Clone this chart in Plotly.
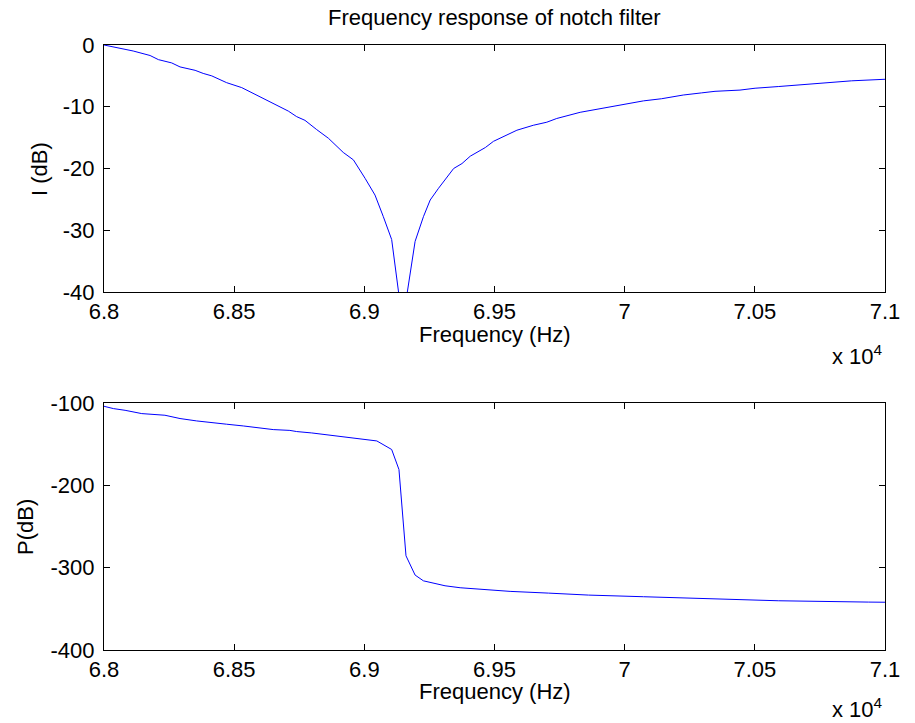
import plotly.graph_objects as go
from plotly.subplots import make_subplots

# ---- data ----
freq_i = [68000, 68112, 68177, 68209, 68260, 68292, 68350, 68381, 68414, 68471, 68529, 68586,
          68644, 68708, 68740, 68772, 68817, 68862, 68919, 68958, 69003, 69041, 69073, 69105,
          69147, 69195, 69227, 69253, 69285, 69343, 69375, 69407, 69465, 69496, 69586, 69649,
          69701, 69739, 69829, 69893, 69951, 70072, 70142, 70225, 70296, 70347, 70443, 70501,
          70590, 70693, 70782, 70872, 71000]
i_db = [0, -0.97, -1.7, -2.37, -2.9, -3.55, -4.1, -4.6, -5.0, -6.1, -6.9, -8.1,
        -9.3, -10.7, -11.6, -12.2, -13.7, -15.1, -17.4, -18.6, -21.6, -24.3, -27.8, -31.5,
        -45.0, -31.8, -27.8, -25.1, -23.2, -20.0, -19.2, -18.0, -16.6, -15.6, -13.8, -13.0,
        -12.5, -11.9, -10.9, -10.4, -9.9, -9.05, -8.7, -8.1, -7.75, -7.5, -7.3, -7.0,
        -6.73, -6.4, -6.1, -5.8, -5.55]

freq_p = [68000, 68036, 68081, 68145, 68234, 68292, 68356, 68407, 68471, 68535, 68593, 68650,
          68714, 68740, 68798, 68862, 68919, 68977, 69015, 69048, 69105, 69133, 69160, 69195,
          69227, 69310, 69368, 69464, 69560, 69707, 69861, 70072, 70315, 70590, 70936, 71000]
p_db = [-104, -106.8, -108.9, -112.9, -114.9, -118.9, -121.8, -123.8, -125.8, -127.9, -130.3, -132.3,
        -133.3, -134.7, -136.4, -138.8, -141.2, -143.2, -144.0, -146.1, -156.5, -180.8, -285.6, -309,
        -316, -322, -324.4, -326.4, -328.8, -330.9, -333.3, -335.3, -337.7, -340.2, -341.8, -342]

x_tickvals = [68000, 68500, 69000, 69500, 70000, 70500, 71000]
x_ticktext = ["6.8", "6.85", "6.9", "6.95", "7", "7.05", "7.1"]
i_tickvals = [0, -10, -20, -30, -40]
i_ticktext = ["0", "-10", "-20", "-30", "-40"]
p_tickvals = [-100, -200, -300, -400]
p_ticktext = ["-100", "-200", "-300", "-400"]

title_text = "Frequency response of notch filter"
x_title = "Frequency (Hz)"
i_title = "I (dB)"
p_title = "P(dB)"
exp_text = "x 10<sup>4</sup>"

FONT = "Liberation Sans, Arial, Helvetica, sans-serif"
FS = 22

fig = make_subplots(rows=2, cols=1)
fig.add_trace(go.Scatter(x=freq_i, y=i_db, mode="lines",
                         line=dict(color="#0000ff", width=1)), row=1, col=1)
fig.add_trace(go.Scatter(x=freq_p, y=p_db, mode="lines",
                         line=dict(color="#0000ff", width=1)), row=2, col=1)

axis_common = dict(showline=True, linecolor="black", linewidth=1, mirror="ticks",
                   ticks="inside", ticklen=6, tickcolor="black", tickwidth=1,
                   showgrid=False, zeroline=False, automargin=False,
                   tickfont=dict(family=FONT, size=FS, color="black"))

fig.update_xaxes(range=[68000, 71000], tickvals=x_tickvals, ticktext=x_ticktext,
                 ticklabelstandoff=0, **axis_common)
fig.update_yaxes(ticklabelstandoff=4, **axis_common)
fig.update_yaxes(range=[-40, 0], tickvals=i_tickvals, ticktext=i_ticktext, row=1, col=1)
fig.update_yaxes(range=[-400, -100], tickvals=p_tickvals, ticktext=p_ticktext, row=2, col=1)

fig.update_layout(
    width=915, height=723,
    margin=dict(l=104, r=30, t=45, b=73, pad=0, autoexpand=False),
    plot_bgcolor="white", paper_bgcolor="white",
    showlegend=False,
    font=dict(family=FONT, size=FS, color="black"),
    xaxis=dict(domain=[0, 1]),
    yaxis=dict(domain=[0.5917, 1.0]),
    xaxis2=dict(domain=[0, 1]),
    yaxis2=dict(domain=[0.0, 0.4083]),
)

H = 605.0
def py(p):
    return (650.0 - p) / H

ann = [
    dict(text=title_text, x=0.5, y=py(17), xanchor="center", yanchor="middle"),
    dict(text=x_title, x=0.5, y=py(334), xanchor="center", yanchor="middle"),
    dict(text=x_title, x=0.5, y=py(691), xanchor="center", yanchor="middle"),
    dict(text=exp_text, x=1.0, y=py(355), xanchor="right", yanchor="middle"),
    dict(text=exp_text, x=1.0, y=py(708), xanchor="right", yanchor="middle"),
    dict(text=i_title, x=(39 - 104) / 781.0, y=py(169), xanchor="center", yanchor="middle", textangle=-90),
    dict(text=p_title, x=(25 - 104) / 781.0, y=py(527), xanchor="center", yanchor="middle", textangle=-90),
]
for a in ann:
    a.update(xref="paper", yref="paper", showarrow=False,
             font=dict(family=FONT, size=FS, color="black"))
    fig.add_annotation(**a)

fig.write_html("out.html",
               config={"displayModeBar": False},
               post_script="document.body.style.margin='0';document.body.style.padding='0';"
                           "document.body.style.overflow='hidden';")
